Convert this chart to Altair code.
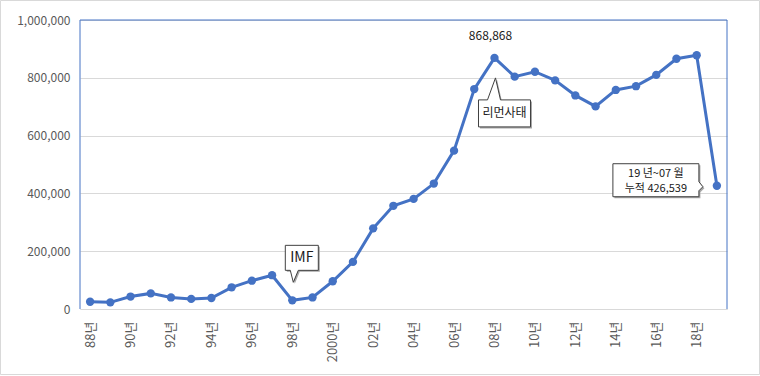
import altair as alt
import pandas as pd

years = ["88년", "89년", "90년", "91년", "92년", "93년", "94년", "95년", "96년", "97년",
         "98년", "99년", "2000년", "01년", "02년", "03년", "04년", "05년", "06년", "07년",
         "08년", "09년", "10년", "11년", "12년", "13년", "14년", "15년", "16년", "17년",
         "18년", "19년"]
values = [25000, 23000, 43000, 54000, 40000, 35000, 38000, 75000, 98000, 117000,
          30000, 40000, 96000, 163000, 279000, 357000, 381000, 434000, 548000, 761000,
          868868, 804000, 821000, 791000, 739000, 701000, 758000, 771000, 810000, 866000,
          878000, 426539]
tick_labels = ["88년", "90년", "92년", "94년", "96년", "98년", "2000년", "02년", "04년",
               "06년", "08년", "10년", "12년", "14년", "16년", "18년"]
y_ticks = [0, 200000, 400000, 600000, 800000, 1000000]

W, H = 647, 289
BLUE = "#4472C4"
FONT = "Noto Sans CJK KR"

df = pd.DataFrame({"year": years, "value": values})

x_enc = alt.X("year:N", sort=years, scale=alt.Scale(type="point", padding=0.5, domain=years),
              axis=alt.Axis(values=tick_labels, labelAngle=270, labelAlign="right",
                            labelBaseline="middle", labelPadding=12, ticks=False,
                            domainColor="#D9D9D9", labelColor="#595959", labelFontSize=13,
                            labelFont=FONT, title=None, grid=False))
y_enc = alt.Y("value:Q", scale=alt.Scale(domain=[0, 1000000]),
              axis=alt.Axis(values=y_ticks, format=",.0f", ticks=False, domain=False,
                            labelPadding=10, labelColor="#595959", labelFontSize=12,
                            labelFont=FONT, gridColor="#D9D9D9", gridWidth=1, title=None))

base = alt.Chart(df)
line = base.mark_line(color=BLUE, strokeWidth=3).encode(x=x_enc, y=y_enc)
pts = base.mark_point(filled=True, color=BLUE, size=70, opacity=1).encode(x=x_enc, y=y_enc)

# callouts anchored at data points (path in pixels relative to the point)
callouts = [
    {"year": "08년", "value": 868868,
     "path": "M -16 42 L -7 42 L 1 20 L 6 42 L 36 42 L 36 69 L -16 69 Z"},
    {"year": "98년", "value": 30000,
     "path": "M -7 -55 L 26 -55 L 26 -30 L 6 -30 L 1 -18 L -2 -30 L -7 -30 Z"},
    {"year": "19년", "value": 426539,
     "path": "M -104 -22 L -18 -22 L -18 -4 L -14 1 L -18 5 L -18 11 L -104 11 Z"},
]
texts = [
    {"year": "08년", "value": 868868, "text": "868,868", "dx": -4, "dy": -22, "size": 12},
    {"year": "08년", "value": 868868, "text": "리먼사태", "dx": 10, "dy": 55.5, "size": 12},
    {"year": "98년", "value": 30000, "text": "IMF", "dx": 9.5, "dy": -42.5, "size": 14},
    {"year": "19년", "value": 426539, "text": "19 년~07 월", "dx": -61, "dy": -12, "size": 11},
    {"year": "19년", "value": 426539, "text": "누적 426,539", "dx": -61, "dy": 3, "size": 11},
]

layers = [line, pts]
for c in callouts:
    cd = pd.DataFrame({"year": [c["year"]], "value": [c["value"]]})
    shadow = alt.Chart(cd).mark_point(shape=c["path"], size=4, filled=True, fill="#A6A6A6",
                                      strokeWidth=0, opacity=1, xOffset=1.5, yOffset=1.5
                                      ).encode(x=x_enc, y=y_enc)
    box = alt.Chart(cd).mark_point(shape=c["path"], size=4, filled=True, fill="white",
                                   stroke="#404040", strokeWidth=1, opacity=1
                                   ).encode(x=x_enc, y=y_enc)
    layers += [shadow, box]
for t in texts:
    td = pd.DataFrame({"year": [t["year"]], "value": [t["value"]], "label": [t["text"]]})
    layers.append(alt.Chart(td).mark_text(dx=t["dx"], dy=t["dy"], fontSize=t["size"], font=FONT,
                                          color="#1A1A1A", align="center", baseline="middle"
                                          ).encode(x=x_enc, y=y_enc, text="label:N"))

frame = pd.DataFrame({"k": [0]})
rules = [
    alt.Chart(frame).mark_rule(color=BLUE, strokeWidth=1).encode(
        x=alt.value(0), x2=alt.value(W), y=alt.value(0)),
    alt.Chart(frame).mark_rule(color=BLUE, strokeWidth=1).encode(
        x=alt.value(0), y=alt.value(0), y2=alt.value(H)),
    alt.Chart(frame).mark_rule(color=BLUE, strokeWidth=1).encode(
        x=alt.value(W), y=alt.value(0), y2=alt.value(H)),
    alt.Chart(frame).mark_rect(fill=None, stroke="#D9D9D9", strokeWidth=1).encode(
        x=alt.value(-79.5), x2=alt.value(679.5), y=alt.value(-19.5), y2=alt.value(354.5)),
]

chart = alt.layer(*(layers + rules)).properties(
    width=W, height=H,
    autosize=alt.AutoSizeParams(type="none"),
    padding={"left": 80, "top": 20, "right": 33, "bottom": 67},
    background="white",
).configure_view(stroke=None)

chart.save("out.html", embed_options={"renderer": "svg", "actions": False})
